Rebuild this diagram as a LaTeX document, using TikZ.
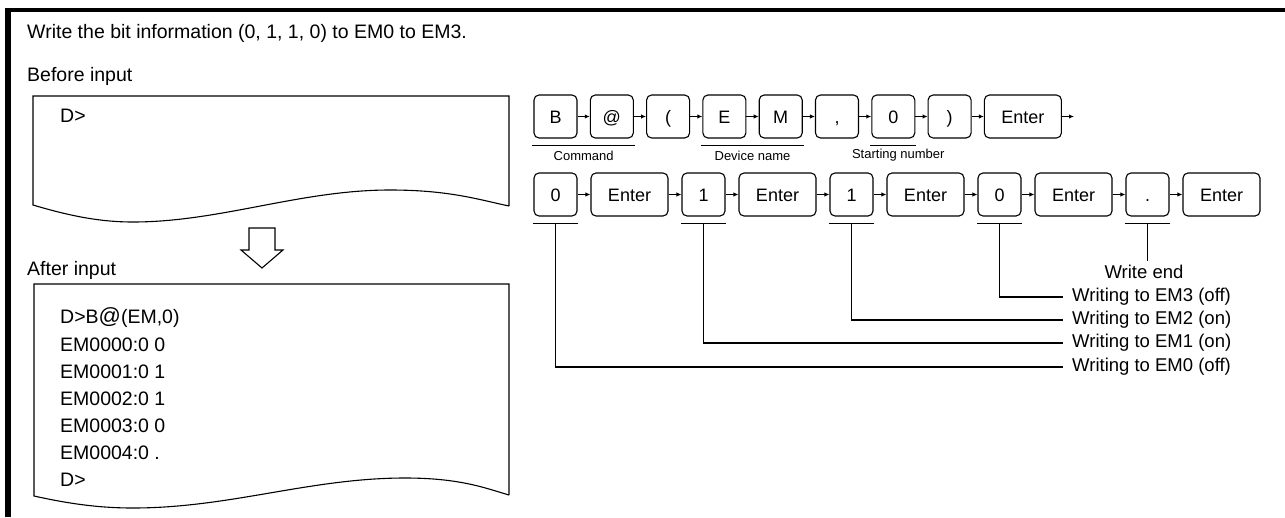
\documentclass[tikz,border=0pt]{standalone}
\usepackage{fontspec}
\setmainfont{Liberation Sans}
\usetikzlibrary{arrows.meta,calc}
\begin{document}
\begin{tikzpicture}[x=1pt,y=-1pt,
  key/.style={draw,line width=1.1pt,rounded corners=5pt,minimum height=43pt,inner sep=0pt,text height=13pt,text depth=0pt,font=\fontsize{18}{20}\selectfont},
  single/.style={key,minimum width=43pt},
  enter/.style={key,minimum width=77pt},
  flow/.style={line width=1.1pt,-{Latex[length=5pt,width=4.5pt]}},
  uline/.style={line width=1.8pt},
  lead/.style={line width=1.2pt},
  small/.style={font=\fontsize{13}{15}\selectfont,inner sep=0pt},
  txt/.style={font=\fontsize{19.5}{22}\selectfont,inner sep=0pt,anchor=west},
  lab/.style={font=\fontsize{18.5}{20}\selectfont,inner ysep=0pt,inner xsep=9pt,anchor=west},
  paper/.style={draw,line width=1.1pt}
]
\useasboundingbox (0,0) rectangle (1285,517);
% frame
\draw[line width=4pt] (5,10) -- (1285,10);
\draw[line width=6pt] (8,8) -- (8,517);
% texts
\node[txt] (title) at (27,33) {Write the bit information (0, 1, 1, 0) to EM0 to EM3.};
\node[txt] (before) at (27,76) {Before input};
\node[txt] (after) at (27,270) {After input};
% before box
\draw[paper] (509,206) -- (509,96) -- (33,96) -- (33,205)
  .. controls (70,216) and (100,222) .. (133,222)
  .. controls (220,222) and (300,190) .. (390,190)
  .. controls (450,190) and (480,200) .. (509,206);
\node[txt] (d1) at (60,116) {D>};
% hollow arrow
\draw[line width=1.1pt] (249,228) -- (275,228) -- (275,250) -- (283,250) -- (262,268) -- (241,250) -- (249,250) -- cycle;
% after box
\draw[paper] (509,495) -- (509,284) -- (34,284) -- (34,496)
  .. controls (70,504) and (100,508) .. (133,508)
  .. controls (230,508) and (310,478) .. (405,478)
  .. controls (460,478) and (485,488) .. (509,495);
\node[txt] (a1) at (60,318) {D>B{\fontsize{22}{22}\selectfont @}(EM,0)};
\node[txt] (a2) at (60,345) {EM0000:0 0};
\node[txt] (a3) at (60,372) {EM0001:0 1};
\node[txt] (a4) at (60,399) {EM0002:0 1};
\node[txt] (a5) at (60,426) {EM0003:0 0};
\node[txt] (a6) at (60,453) {EM0004:0 .};
\node[txt] (a7) at (60,480) {D>};
% row 1
\node[single] (r1) at (555.5,116.5) {B};
\node[single] (r2) at (611.8,116.5) {@};
\node[single] (r3) at (668.1,116.5) {(};
\node[single] (r4) at (724.4,116.5) {E};
\node[single] (r5) at (780.7,116.5) {M};
\node[single] (r6) at (837,116.5) {,};
\node[single] (r7) at (893.3,116.5) {0};
\node[single] (r8) at (949.6,116.5) {)};
\node[enter] (r9) at (1022.9,116.5) {Enter};
\coordinate (r10) at (1074,116.5);
\foreach \a/\b in {r1/r2,r2/r3,r3/r4,r4/r5,r5/r6,r6/r7,r7/r8,r8/r9,r9/r10}
  \draw[flow] (\a.east) -- (\b.west);
% row 1 underlines
\draw[uline] ($(r1.south west)+(-1,7)$) coordinate (c1) -- ($(r2.south east)+(1,7)$) coordinate (c2);
\node[small] (cmd) at ($(c1)!0.5!(c2)+(0,10)$) {Command};
\draw[uline] ($(r4.south west)+(-1,7)$) coordinate (c3) -- ($(r5.south east)+(1,7)$) coordinate (c4);
\node[small] (dev) at ($(c3)!0.5!(c4)+(0,10)$) {Device name};
\draw[uline] ($(r7.south west)+(-1,7)$) coordinate (c5) -- ($(r7.south east)+(1,7)$) coordinate (c6);
\node[small] (stn) at ($(c5)!0.5!(c6)+(5,10)$) {Starting number};
% row 2
\node[single] (s1) at (555.5,194.5) {0};
\node[enter] (s2) at (629.5,194.5) {Enter};
\node[single] (s3) at (703.5,194.5) {1};
\node[enter] (s4) at (777.5,194.5) {Enter};
\node[single] (s5) at (851.5,194.5) {1};
\node[enter] (s6) at (925.5,194.5) {Enter};
\node[single] (s7) at (999.5,194.5) {0};
\node[enter] (s8) at (1073.5,194.5) {Enter};
\node[single] (s9) at (1147.5,194.5) {.};
\node[enter] (s10) at (1221.5,194.5) {Enter};
\foreach \a/\b in {s1/s2,s2/s3,s3/s4,s4/s5,s5/s6,s6/s7,s7/s8,s8/s9,s9/s10}
  \draw[flow] (\a.east) -- (\b.west);
% row 2 underlines
\foreach \k in {s1,s3,s5,s7,s9}{
  \draw[uline] ($(\k.south west)+(0,7)$) -- ($(\k.south east)+(0,7)$);
  \coordinate (u\k) at ($(\k.south)+(0,7)$);
}
% labels
\node[font=\fontsize{18.5}{20}\selectfont,inner xsep=0pt,inner ysep=4pt] (wend) at (1144,272) {Write end};
\node[lab] (l3) at (1063,297) {Writing to EM3 (off)};
\node[lab] (l2) at (1063,320) {Writing to EM2 (on)};
\node[lab] (l1) at (1063,343) {Writing to EM1 (on)};
\node[lab] (l0) at (1063,367) {Writing to EM0 (off)};
\draw[lead] (us9) -- (us9 |- wend.north);
\draw[lead] (us7) |- (l3.west);
\draw[lead] (us5) |- (l2.west);
\draw[lead] (us3) |- (l1.west);
\draw[lead] (us1) |- (l0.west);
\end{tikzpicture}
\end{document}
